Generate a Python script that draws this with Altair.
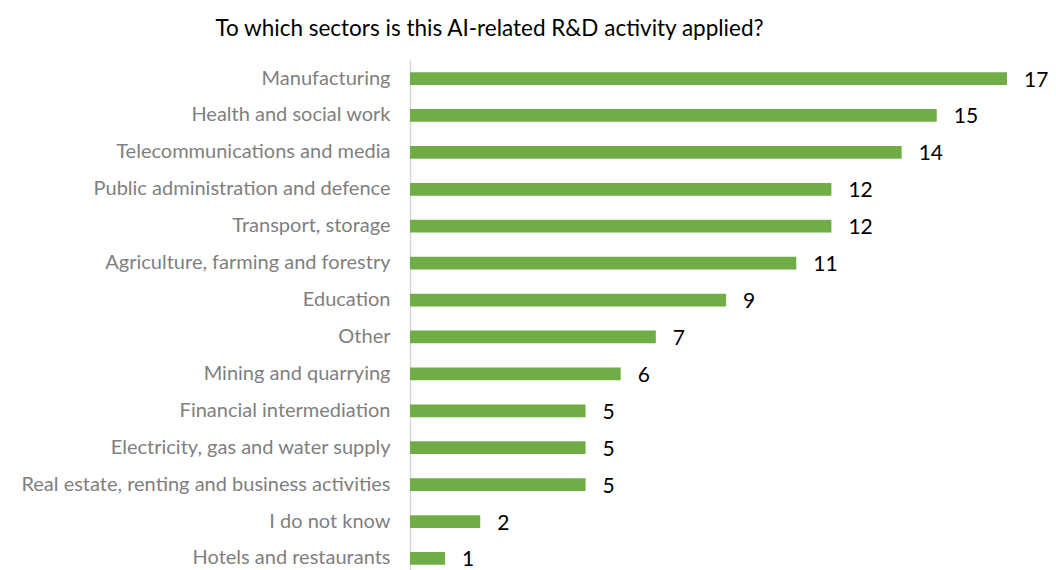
import altair as alt
import pandas as pd

sectors = [
    "Manufacturing",
    "Health and social work",
    "Telecommunications and media",
    "Public administration and defence",
    "Transport, storage",
    "Agriculture, farming and forestry",
    "Education",
    "Other",
    "Mining and quarrying",
    "Financial intermediation",
    "Electricity, gas and water supply",
    "Real estate, renting and business activities",
    "I do not know",
    "Hotels and restaurants",
]
counts = [17, 15, 14, 12, 12, 11, 9, 7, 6, 5, 5, 5, 2, 1]

df = pd.DataFrame({"sector": sectors, "count": counts})

FONT = "Lato"

y = alt.Y(
    "sector:N",
    sort=sectors,
    scale=alt.Scale(paddingInner=0.655, paddingOuter=0.33, align=0.5),
    axis=alt.Axis(
        title=None,
        ticks=False,
        domain=True,
        domainColor="#d9d9d9",
        domainWidth=1.5,
        labelColor="#7f7f7f",
        labelFont=FONT,
        labelFontSize=20,
        labelPadding=20,
        labelLimit=500,
    ),
)
x = alt.X("count:Q", scale=alt.Scale(domain=[0, 17], nice=False), axis=None)

bars = alt.Chart(df).mark_bar(color="#70AD47").encode(x=x, y=y)
labels = alt.Chart(df).mark_text(
    align="left", baseline="middle", dx=17, dy=2, font=FONT, fontSize=21, color="#000000"
).encode(x=x, y=y, text="count:Q")

chart = (
    (bars + labels)
    .properties(
        width=597,
        height=517,
        title=alt.TitleParams(
            "To which sectors is this AI-related R&D activity applied?",
            font=FONT,
            fontSize=22.5,
            fontWeight="normal",
            color="#000000",
            anchor="middle",
            offset=20,
            dx=-219,
        ),
        autosize=alt.AutoSizeParams(type="none"),
        padding={"top": 52, "left": 402, "right": 41, "bottom": 0},
    )
    .configure_view(stroke=None)
)

chart.save("out.html", embed_options={"renderer": "svg", "actions": False})
